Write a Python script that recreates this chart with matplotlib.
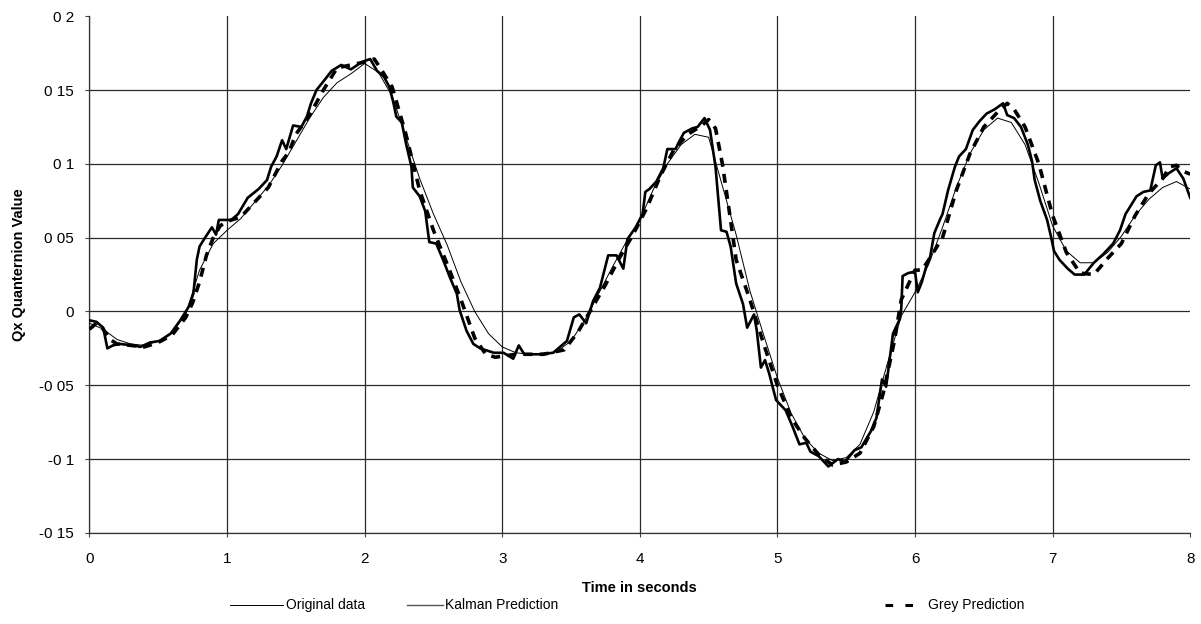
import numpy as np
import matplotlib
matplotlib.use("Agg")
import matplotlib.pyplot as plt
from matplotlib.lines import Line2D

plt.rcParams['font.family'] = ['Liberation Sans', 'DejaVu Sans']

# original measured data (sampled every 0.1 s)
orig_t = np.linspace(0, 8, 81)
orig_v = [-0.008, -0.012, -0.019, -0.022, -0.023, -0.020, -0.014, -0.002, 0.028, 0.046,
          0.055, 0.063, 0.074, 0.085, 0.099, 0.115, 0.131, 0.145, 0.155, 0.161,
          0.168, 0.162, 0.146, 0.118, 0.090, 0.066, 0.045, 0.020, 0.000, -0.015,
          -0.024, -0.028, -0.029, -0.029, -0.027, -0.020, -0.006, 0.012, 0.030, 0.047,
          0.062, 0.083, 0.100, 0.113, 0.120, 0.118, 0.085, 0.052, 0.014, -0.016,
          -0.045, -0.069, -0.086, -0.096, -0.101, -0.099, -0.090, -0.068, -0.035, -0.003,
          0.013, 0.032, 0.057, 0.084, 0.107, 0.123, 0.131, 0.128, 0.113, 0.087,
          0.058, 0.041, 0.033, 0.033, 0.040, 0.051, 0.065, 0.076, 0.084, 0.088,
          0.083]

# kalman prediction
kalman_t = [0.00, 0.05, 0.10, 0.13, 0.17, 0.22, 0.32, 0.37, 0.44, 0.51,
            0.59, 0.66, 0.72, 0.755, 0.78, 0.80, 0.84, 0.89, 0.92, 0.94,
            1.03, 1.08, 1.15, 1.23, 1.29, 1.32, 1.36, 1.40, 1.43, 1.48,
            1.54, 1.58, 1.61, 1.65, 1.71, 1.76, 1.83, 1.90, 1.98, 2.04,
            2.09, 2.14, 2.18, 2.21, 2.23, 2.27, 2.30, 2.34, 2.35, 2.40,
            2.44, 2.47, 2.52, 2.57, 2.62, 2.67, 2.69, 2.74, 2.79, 2.84,
            2.94, 3.01, 3.08, 3.12, 3.16, 3.27, 3.37, 3.42, 3.47, 3.52,
            3.56, 3.61, 3.66, 3.71, 3.77, 3.83, 3.88, 3.91, 3.97, 4.02,
            4.04, 4.07, 4.12, 4.17, 4.20, 4.26, 4.28, 4.32, 4.38, 4.42,
            4.47, 4.51, 4.55, 4.59, 4.63, 4.66, 4.70, 4.75, 4.78, 4.83,
            4.85, 4.88, 4.91, 4.94, 4.99, 5.06, 5.11, 5.16, 5.21, 5.24,
            5.30, 5.37, 5.44, 5.49, 5.56, 5.61, 5.68, 5.72, 5.76, 5.79,
            5.84, 5.89, 5.90, 5.91, 5.95, 6.00, 6.02, 6.05, 6.08, 6.11,
            6.14, 6.18, 6.20, 6.24, 6.29, 6.32, 6.37, 6.42, 6.47, 6.52,
            6.58, 6.64, 6.67, 6.72, 6.77, 6.82, 6.85, 6.87, 6.91, 6.96,
            6.99, 7.01, 7.05, 7.11, 7.16, 7.23, 7.30, 7.37, 7.44, 7.49,
            7.53, 7.61, 7.66, 7.71, 7.75, 7.78, 7.80, 7.85, 7.90, 7.95,
            8.00]
kalman_v = [-0.006, -0.007, -0.011, -0.025, -0.023, -0.022, -0.023, -0.024, -0.021, -0.020,
            -0.015, -0.006, 0.003, 0.012, 0.035, 0.044, 0.050, 0.057, 0.052, 0.062,
            0.062, 0.066, 0.077, 0.083, 0.089, 0.098, 0.105, 0.116, 0.110, 0.126,
            0.125, 0.132, 0.141, 0.150, 0.157, 0.163, 0.167, 0.164, 0.169, 0.171,
            0.163, 0.159, 0.152, 0.141, 0.132, 0.128, 0.114, 0.098, 0.084, 0.078,
            0.068, 0.047, 0.046, 0.035, 0.023, 0.012, 0.001, -0.013, -0.022, -0.025,
            -0.028, -0.028, -0.032, -0.023, -0.029, -0.029, -0.028, -0.024, -0.020, -0.004,
            -0.002, -0.008, 0.007, 0.016, 0.038, 0.038, 0.029, 0.049, 0.057, 0.066,
            0.081, 0.083, 0.088, 0.097, 0.110, 0.110, 0.114, 0.121, 0.124, 0.125,
            0.131, 0.123, 0.098, 0.055, 0.054, 0.044, 0.019, 0.005, -0.011, -0.002,
            -0.013, -0.038, -0.033, -0.042, -0.060, -0.067, -0.078, -0.090, -0.089, -0.095,
            -0.098, -0.105, -0.100, -0.102, -0.094, -0.092, -0.081, -0.072, -0.046, -0.051,
            -0.015, -0.005, 0.002, 0.024, 0.026, 0.027, 0.013, 0.020, 0.030, 0.037,
            0.053, 0.062, 0.066, 0.082, 0.098, 0.105, 0.110, 0.123, 0.129, 0.134,
            0.137, 0.141, 0.133, 0.131, 0.125, 0.113, 0.102, 0.089, 0.075, 0.062,
            0.050, 0.041, 0.035, 0.029, 0.025, 0.025, 0.033, 0.039, 0.046, 0.055,
            0.066, 0.078, 0.081, 0.082, 0.099, 0.101, 0.090, 0.094, 0.097, 0.090,
            0.077]

# grey prediction
grey_t = [0.00, 0.05, 0.10, 0.15, 0.20, 0.30, 0.40, 0.50, 0.60, 0.70,
          0.75, 0.80, 0.85, 0.90, 0.95, 1.00, 1.10, 1.20, 1.30, 1.40,
          1.45, 1.50, 1.60, 1.70, 1.80, 1.90, 2.00, 2.07, 2.12, 2.20,
          2.30, 2.40, 2.50, 2.60, 2.70, 2.80, 2.88, 2.95, 3.10, 3.30,
          3.45, 3.55, 3.65, 3.75, 3.85, 3.95, 4.05, 4.15, 4.25, 4.35,
          4.45, 4.50, 4.55, 4.60, 4.65, 4.70, 4.80, 4.90, 5.00, 5.10,
          5.20, 5.30, 5.40, 5.50, 5.60, 5.70, 5.77, 5.85, 5.90, 6.00,
          6.05, 6.10, 6.20, 6.30, 6.40, 6.50, 6.60, 6.67, 6.72, 6.80,
          6.90, 7.00, 7.10, 7.20, 7.30, 7.40, 7.50, 7.60, 7.70, 7.80,
          7.85, 7.90, 7.95, 8.00]
grey_v = [-0.012, -0.008, -0.012, -0.019, -0.022, -0.023, -0.024, -0.021, -0.016, -0.004,
          0.006, 0.020, 0.038, 0.050, 0.058, 0.061, 0.064, 0.074, 0.084, 0.102,
          0.108, 0.120, 0.133, 0.150, 0.165, 0.167, 0.169, 0.171, 0.164, 0.152,
          0.120, 0.082, 0.055, 0.032, 0.008, -0.018, -0.029, -0.031, -0.029, -0.029,
          -0.026, -0.014, 0.002, 0.018, 0.036, 0.052, 0.070, 0.092, 0.110, 0.120,
          0.126, 0.130, 0.124, 0.100, 0.068, 0.035, 0.008, -0.022, -0.050, -0.072,
          -0.086, -0.097, -0.104, -0.102, -0.096, -0.078, -0.055, -0.020, 0.008, 0.028,
          0.028, 0.035, 0.050, 0.082, 0.107, 0.125, 0.135, 0.141, 0.137, 0.125,
          0.100, 0.065, 0.040, 0.026, 0.025, 0.036, 0.046, 0.065, 0.080, 0.090,
          0.098, 0.099, 0.095, 0.093]

y_ticks = [-0.15, -0.1, -0.05, 0, 0.05, 0.1, 0.15, 0.2]
y_labels = ['-0 15', '-0 1', '-0 05', '0', '0 05', '0 1', '0 15', '0 2']
x_ticks = [0, 1, 2, 3, 4, 5, 6, 7, 8]

fig = plt.figure(figsize=(12.01, 6.24), dpi=100)
ax = fig.add_axes([0.0745, 0.146, 0.9165, 0.828])

ax.plot(orig_t, orig_v, color='black', lw=0.7, zorder=3)
ax.plot(kalman_t, kalman_v, color='black', lw=1.9, zorder=4)
ax.plot(grey_t, grey_v, color='black', lw=2.6, dashes=(2.5, 2), zorder=5)

ax.set_xlim(0, 8)
ax.set_ylim(-0.15, 0.2)
ax.set_xticks(x_ticks)
ax.set_yticks(y_ticks)
ax.set_yticklabels(y_labels)
ax.tick_params(axis='both', labelsize=11, length=3, width=0.8, color='#444444')
ax.tick_params(axis='y', pad=8)
ax.tick_params(axis='x', pad=11)

ax.grid(True, color='#2a2a2a', lw=0.9)
ax.get_ygridlines()[-1].set_visible(False)
ax.get_xgridlines()[-1].set_visible(False)
for s in ['top', 'right']:
    ax.spines[s].set_visible(False)
for s in ['left', 'bottom']:
    ax.spines[s].set_color('#333333')
    ax.spines[s].set_linewidth(0.9)

ax.set_xlabel('Time in seconds', fontsize=10.5, fontweight='bold')
ax.xaxis.set_label_coords(0.5, -0.093)
ax.set_ylabel('Qx Quanternion Value', fontsize=10.5, fontweight='bold')
ax.yaxis.set_label_coords(-0.058, 0.52)

# legend below the axes
W, H = 1201.0, 624.0
ly = 1 - 605 / H
fig.add_artist(Line2D([230 / W, 283 / W], [ly, ly], color='black', lw=0.7))
fig.text(286 / W, ly, 'Original data', fontsize=10, va='center')
fig.add_artist(Line2D([407 / W, 443 / W], [ly, ly], color='#555555', lw=1.0))
fig.text(445 / W, ly, 'Kalman Prediction', fontsize=10, va='center')
fig.add_artist(Line2D([885 / W, 921 / W], [ly, ly], color='black', lw=2.2, dashes=(2.5, 4)))
fig.text(928 / W, ly, 'Grey Prediction', fontsize=10, va='center')

fig.savefig('out.png', dpi=100)
